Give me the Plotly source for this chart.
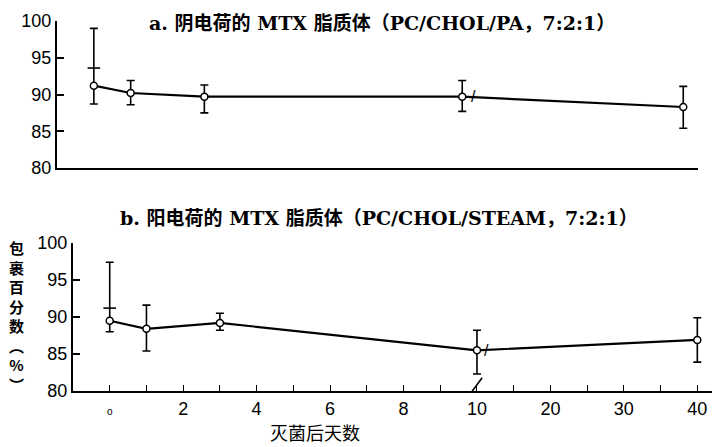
import plotly.graph_objects as go

# ---- data ----
days = [0, 1, 3, 10, 40]

a_mean = [91.2, 90.2, 89.7, 89.7, 88.3]
a_hi = [99.0, 91.9, 91.3, 91.9, 91.1]
a_lo = [88.7, 88.6, 87.5, 87.7, 85.4]
a_inner = [93.6]          # extra inner cap at day 0

b_mean = [89.5, 88.4, 89.2, 85.5, 86.9]
b_hi = [97.4, 91.6, 90.5, 88.2, 89.9]
b_lo = [88.0, 85.4, 88.2, 82.3, 83.9]
b_inner = [91.2]

tick_days = [0, 1, 2, 3, 4, 5, 6, 7, 8, 9, 10, 15, 20, 25, 30, 35, 40]
tick_labels = {0: "<span style='font-size:10px'>o</span>", 2: "2", 4: "4", 6: "6", 8: "8",
               10: "10", 20: "20", 30: "30", 40: "40"}
y_ticks = [80, 85, 90, 95, 100]

title_a = "a. 阴电荷的 MTX 脂质体（PC/CHOL/PA，7:2:1）"
title_b = "b. 阳电荷的 MTX 脂质体（PC/CHOL/STEAM，7:2:1）"
y_title = "包<br>裹<br>百<br>分<br>数<br>︵<br>%<br>︶"
x_title = "灭菌后天数"


def pos(d):
    """Broken axis: 0-10 days linear, then 5 days per unit."""
    return d if d <= 10 else 10 + (d - 10) / 5.0


FONT_NUM = "Liberation Sans, Arial, sans-serif"
FONT_TXT = "DejaVu Serif, Noto Sans CJK SC, serif"

fig = go.Figure()


def add_panel(mean, hi, lo, inner, xa, ya):
    xs = [pos(d) for d in days]
    fig.add_trace(go.Scatter(
        x=xs, y=mean, mode="lines+markers", xaxis=xa, yaxis=ya,
        line=dict(color="black", width=2.2),
        marker=dict(symbol="circle", size=7, color="white",
                    line=dict(color="black", width=1.5)),
        error_y=dict(type="data", symmetric=False,
                     array=[h - m for h, m in zip(hi, mean)],
                     arrayminus=[m - l for m, l in zip(mean, lo)],
                     color="black", thickness=1.6, width=4),
        showlegend=False, hoverinfo="skip"))
    fig.add_trace(go.Scatter(
        x=[pos(days[0])] * len(inner), y=inner, mode="markers",
        xaxis=xa, yaxis=ya,
        marker=dict(symbol="line-ew", size=9, line=dict(color="black", width=1.6)),
        showlegend=False, hoverinfo="skip"))


add_panel(a_mean, a_hi, a_lo, a_inner, "x", "y")
add_panel(b_mean, b_hi, b_lo, b_inner, "x2", "y2")

# break slash across the lower x axis at 10 days
brk = pos(10)
fig.add_trace(go.Scatter(
    x=[brk - 0.14, brk + 0.14], y=[79.9, 81.8], mode="lines",
    xaxis="x2", yaxis="y2", cliponaxis=False,
    line=dict(color="black", width=1.6), showlegend=False, hoverinfo="skip"))

W, H = 717, 447
xr = [-1.0, 16.4]

axis_common = dict(showgrid=False, zeroline=False, showline=True,
                   linecolor="black", linewidth=2, automargin=False)

fig.update_layout(
    template="none",
    width=W, height=H,
    margin=dict(l=0, r=0, t=0, b=0, pad=0, autoexpand=False),
    paper_bgcolor="white", plot_bgcolor="white",
    showlegend=False,
    xaxis=dict(domain=[57 / W, 698 / W], range=xr, anchor="y",
               showticklabels=False, ticks="", **axis_common),
    yaxis=dict(domain=[1 - 168 / H, 1 - 21 / H], range=[80, 100], anchor="x",
               tickvals=y_ticks, ticks="inside", ticklen=7, tickwidth=1.5,
               tickcolor="black",
               tickfont=dict(family=FONT_NUM, size=18, color="black"),
               **axis_common),
    xaxis2=dict(domain=[73 / W, 712 / W], range=xr, anchor="y2",
                tickvals=[pos(d) for d in tick_days],
                ticktext=[tick_labels.get(d, "") for d in tick_days],
                ticks="inside", ticklen=6, tickwidth=1.3, tickcolor="black",
                tickfont=dict(family=FONT_NUM, size=18, color="black"),
                **axis_common),
    yaxis2=dict(domain=[1 - 391 / H, 1 - 243 / H], range=[80, 100], anchor="x2",
                tickvals=y_ticks, ticks="inside", ticklen=7, tickwidth=1.5,
                tickcolor="black",
                tickfont=dict(family=FONT_NUM, size=18, color="black"),
                **axis_common),
)

ann = []
ann.append(dict(text="<b>" + title_a + "</b>", xref="paper", yref="paper",
                x=382 / W, y=1 - 23 / H, showarrow=False, xanchor="center",
                yanchor="middle", font=dict(family=FONT_TXT, size=19, color="black")))
ann.append(dict(text="<b>" + title_b + "</b>", xref="paper", yref="paper",
                x=379 / W, y=1 - 218 / H, showarrow=False, xanchor="center",
                yanchor="middle", font=dict(family=FONT_TXT, size=19, color="black")))
ann.append(dict(text="<b>" + y_title + "</b>", xref="paper", yref="paper",
                x=16 / W, y=1 - 316 / H,
                showarrow=False, xanchor="center", yanchor="middle",
                font=dict(family="Noto Sans CJK SC", size=15, color="black")))
ann.append(dict(text=x_title, xref="paper", yref="paper", x=315 / W, y=0,
                showarrow=False, xanchor="center", yanchor="bottom",
                font=dict(family="Noto Sans CJK SC", size=18, color="black")))
# break marks on the curves at 10 days
ann.append(dict(text="/", x=brk + 0.3, y=a_mean[3], xref="x", yref="y",
                showarrow=False, font=dict(family=FONT_NUM, size=16, color="black")))
ann.append(dict(text="/", x=brk + 0.25, y=b_mean[3], xref="x2", yref="y2",
                showarrow=False, font=dict(family=FONT_NUM, size=16, color="black")))
fig.update_layout(annotations=ann)

fig.write_html("out.html",
               config={"displayModeBar": False},
               post_script="document.body.style.margin='0';"
                           "document.body.style.overflow='hidden';")
